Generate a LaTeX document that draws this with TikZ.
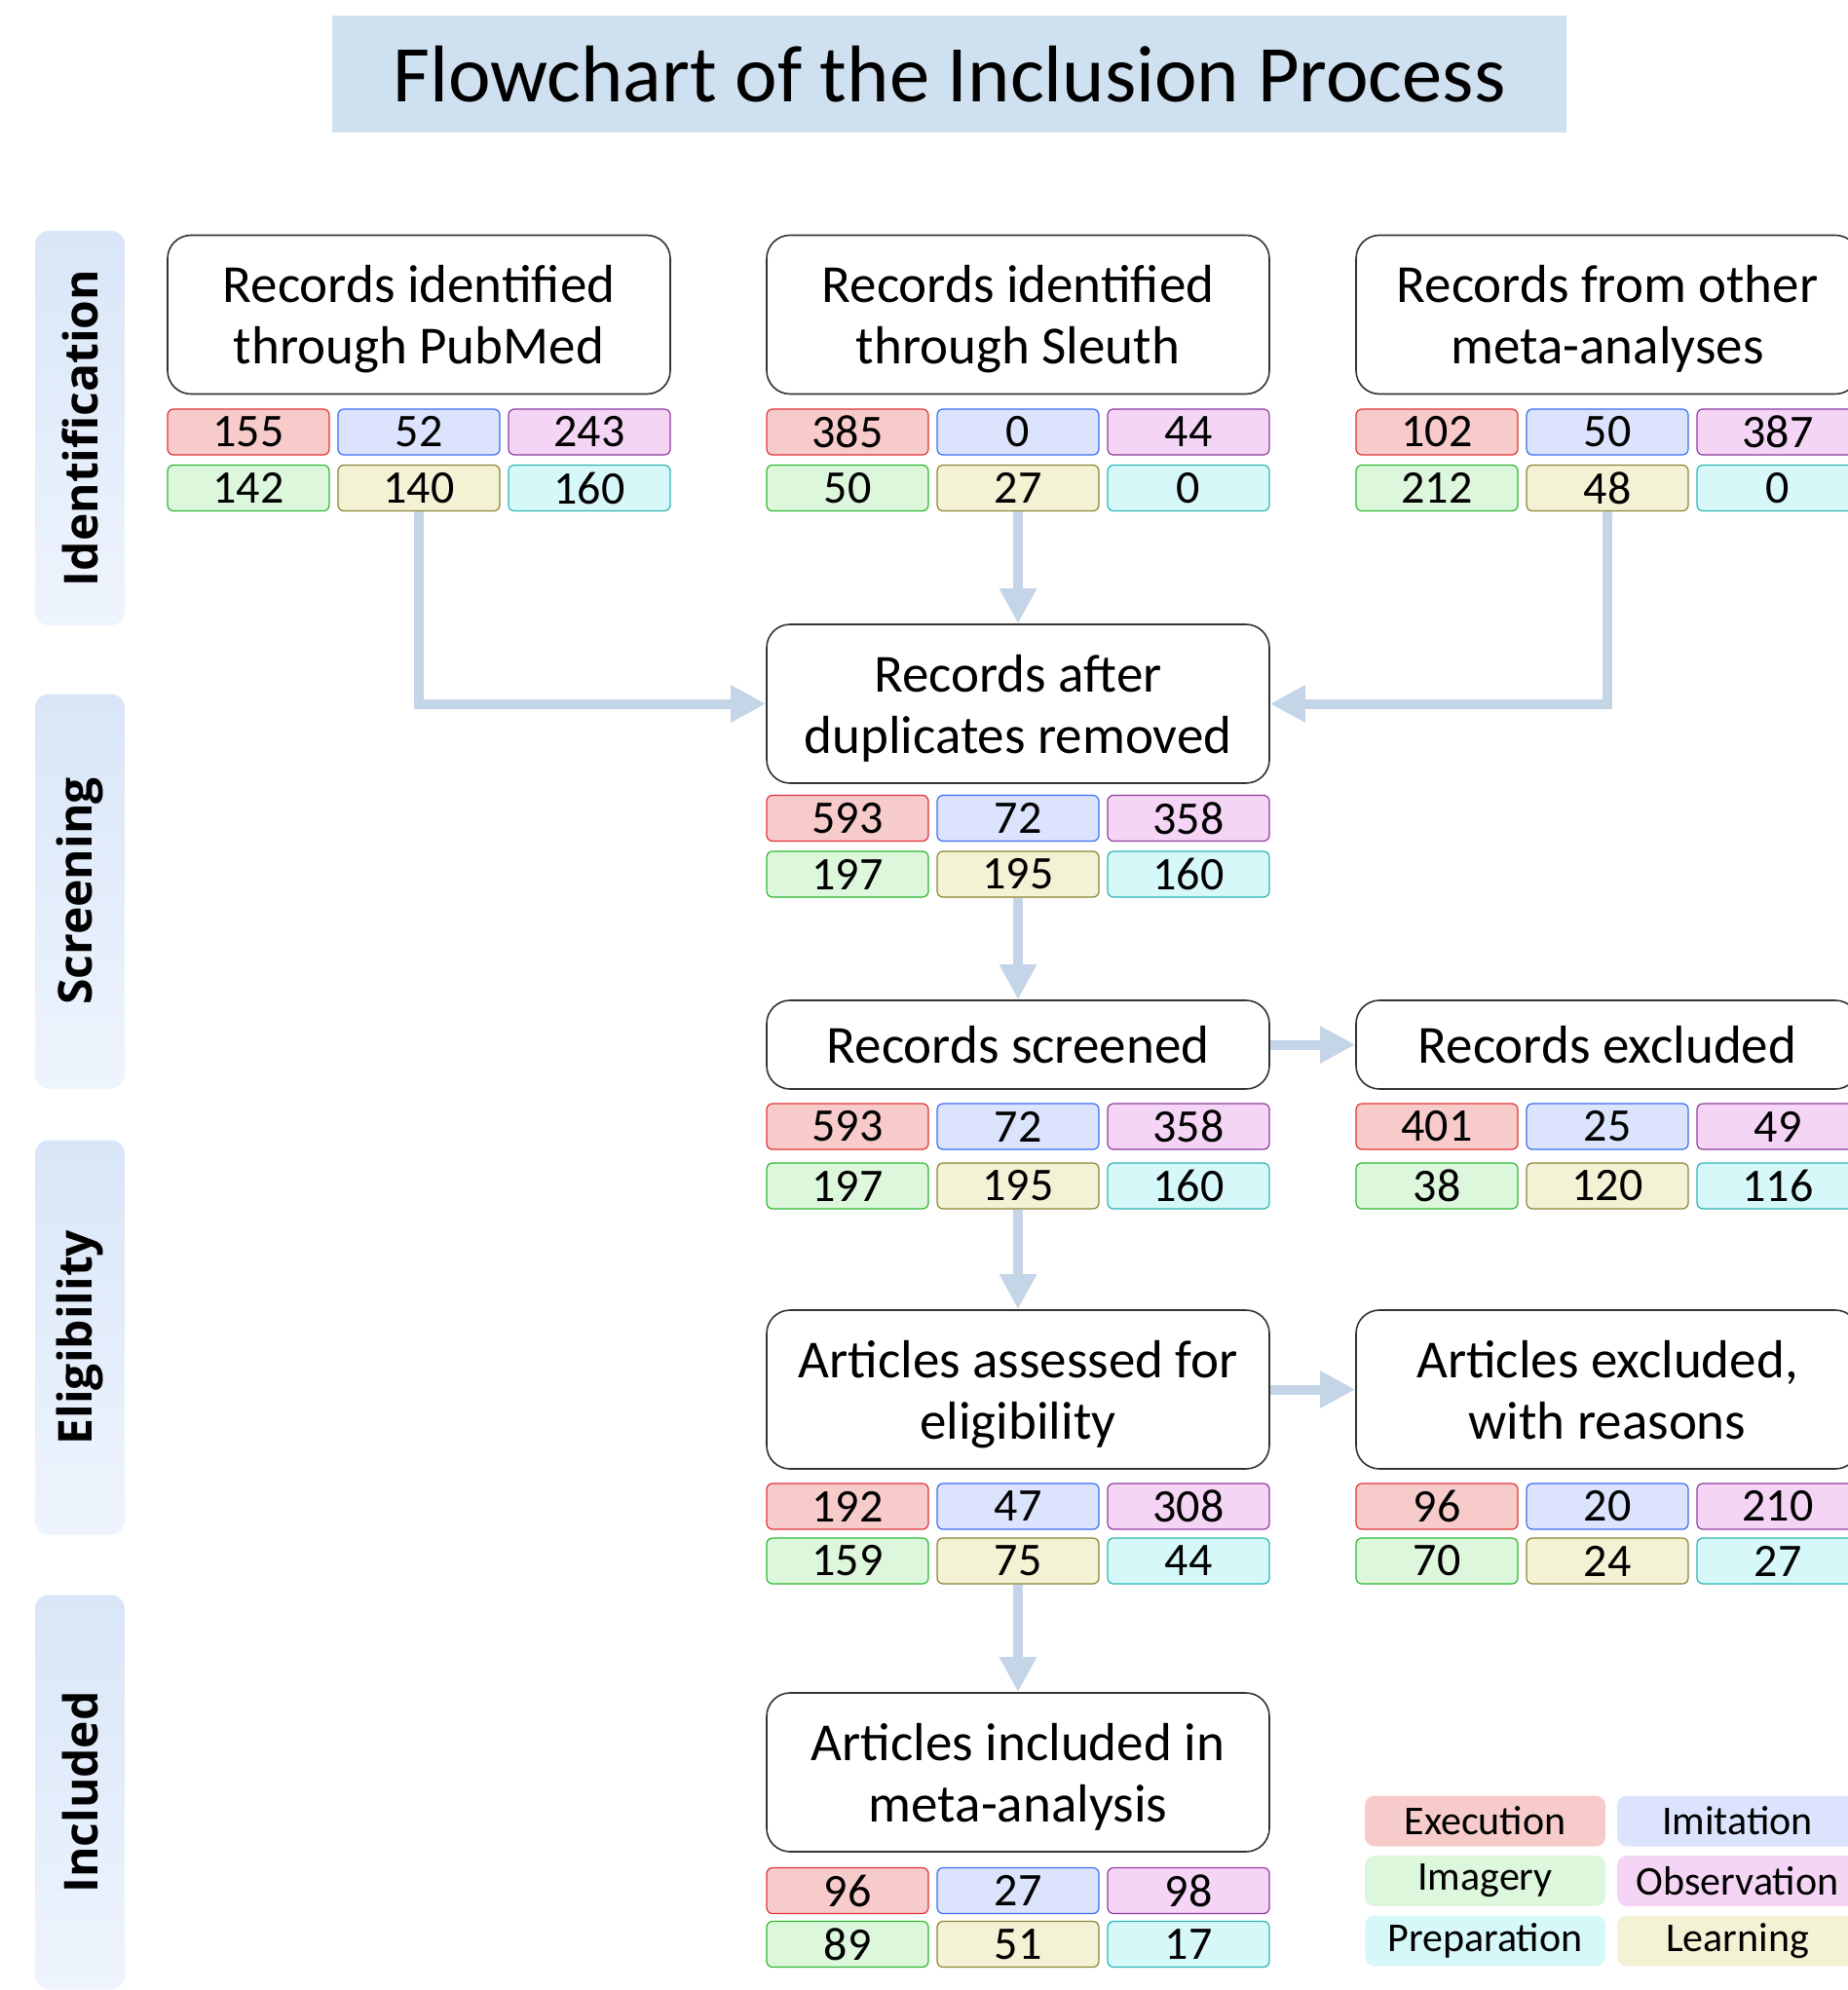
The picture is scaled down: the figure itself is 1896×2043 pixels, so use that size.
\documentclass[tikz,border=0pt]{standalone}
\usepackage{fontspec}
\setmainfont{Carlito}
\newfontfamily\sidefont{Open Sans}
\usetikzlibrary{arrows.meta}
\definecolor{titleblue}{HTML}{CFE1F0}
\definecolor{flowblue}{HTML}{C5D5E8}
\definecolor{sidedark}{HTML}{D9E6F8}
\definecolor{sidelight}{HTML}{EEF4FD}
\definecolor{exefill}{HTML}{F8CBCB}\definecolor{exeline}{HTML}{E03333}
\definecolor{imifill}{HTML}{DCE3FC}\definecolor{imiline}{HTML}{3B6CF5}
\definecolor{obsfill}{HTML}{F5D5F5}\definecolor{obsline}{HTML}{8E3A9E}
\definecolor{imgfill}{HTML}{DDF7DD}\definecolor{imgline}{HTML}{2EB82E}
\definecolor{lrnfill}{HTML}{F3F2D4}\definecolor{lrnline}{HTML}{8C8433}
\definecolor{prpfill}{HTML}{D6F8F8}\definecolor{prpline}{HTML}{2BB5B5}
\tikzset{
  box/.style={draw=black!80, line width=0.8pt, rounded corners=12pt, fill=white,
    minimum width=258pt, inner sep=0pt, align=center,
    font=\fontsize{27.5}{31.5}\selectfont},
  twoline/.style={box, minimum height=81.5pt, text depth=0pt},
  oneline/.style={box, minimum height=45.5pt},
  cell/.style={rounded corners=3pt, line width=0.6pt, minimum width=83pt,
    minimum height=23.5pt, inner sep=0pt, font=\fontsize{24}{24}\selectfont},
  legend/.style={rounded corners=5pt, minimum width=123.5pt, minimum height=26pt,
    inner sep=0pt, font=\fontsize{21}{21}\selectfont},
  side/.style={rotate=90, rounded corners=7pt, top color=sidedark, bottom color=sidelight,
    minimum width=202.5pt, minimum height=46pt, inner sep=0pt,
    font=\sidefont\bfseries\fontsize{24}{24}\selectfont},
  flow/.style={draw=flowblue, line width=5pt, -{Triangle[length=18pt,width=18pt]}}
}
\begin{document}
\begin{tikzpicture}[x=0.5pt,y=-0.5pt]
\useasboundingbox (0,0) rectangle (1896,2043);
% title
\node[fill=titleblue, minimum width=633.5pt, minimum height=60pt, inner sep=0pt,
  font=\fontsize{41.3}{41.3}\selectfont] (title) at (974.5,76) {Flowchart of the Inclusion Process};
% stages
\node[side] (identification) at (82,439.5) {Identification};
\node[side] (screening) at (82,915) {Screening};
\node[side] (eligibility) at (82,1373) {Eligibility};
\node[side] (includedstage) at (82,1840) {Included};
% boxes
\node[twoline] (pubmed) at (430,323) {Records identified\\through PubMed};
\node[twoline] (sleuth) at (1045,323) {Records identified\\through Sleuth};
\node[twoline] (other) at (1650,323) {Records from other\\meta-analyses};
\node[twoline] (dup) at (1045,722.5) {Records after\\duplicates removed};
\node[oneline] (screened) at (1045,1072.5) {Records screened};
\node[oneline] (excluded) at (1650,1072.5) {Records excluded};
\node[twoline] (assessed) at (1045,1426.5) {Articles assessed for\\eligibility};
\node[twoline] (reasons) at (1650,1426.5) {Articles excluded,\\with reasons};
\node[twoline] (included) at (1045,1819.5) {Articles included in\\meta-analysis};
% counts
\foreach \n/\x/\ya/\yb/\a/\b/\c/\d/\e/\f in {
  pubmed/430/443.5/501/155/52/243/142/140/160,
  sleuth/1045/443.5/501/385/0/44/50/27/0,
  other/1650/443.5/501/102/50/387/212/48/0,
  dup/1045/840/897.5/593/72/358/197/195/160,
  screened/1045/1156.5/1217.5/593/72/358/197/195/160,
  excluded/1650/1156.5/1217.5/401/25/49/38/120/116,
  assessed/1045/1546.5/1602.5/192/47/308/159/75/44,
  reasons/1650/1546.5/1602.5/96/20/210/70/24/27,
  included/1045/1941/1996/96/27/98/89/51/17}{
  \node[cell, draw=exeline, fill=exefill] (\n-1) at ({\x-175},\ya) {\a};
  \node[cell, draw=imiline, fill=imifill] (\n-2) at (\x,\ya) {\b};
  \node[cell, draw=obsline, fill=obsfill] (\n-3) at ({\x+175},\ya) {\c};
  \node[cell, draw=imgline, fill=imgfill] (\n-4) at ({\x-175},\yb) {\d};
  \node[cell, draw=lrnline, fill=lrnfill] (\n-5) at (\x,\yb) {\e};
  \node[cell, draw=prpline, fill=prpfill] (\n-6) at ({\x+175},\yb) {\f};
}
% arrows
\draw[flow] (pubmed-5.south) |- (dup.west);
\draw[flow] (other-5.south) |- (dup.east);
\draw[flow] (sleuth-5.south) -- (dup.north);
\draw[flow] (dup-5.south) -- (screened.north);
\draw[flow] (screened.east) -- (excluded.west);
\draw[flow] (screened-5.south) -- (assessed.north);
\draw[flow] (assessed.east) -- (reasons.west);
\draw[flow] (assessed-5.south) -- (included.north);
% legend
\node[legend, fill=exefill] (execution) at (1524.5,1869.5) {Execution};
\node[legend, fill=imifill] (imitation) at (1783.5,1869.5) {Imitation};
\node[legend, fill=imgfill] (imagery) at (1524.5,1931) {Imagery};
\node[legend, fill=obsfill] (observation) at (1783.5,1931) {Observation};
\node[legend, fill=prpfill] (preparation) at (1524.5,1992.5) {Preparation};
\node[legend, fill=lrnfill] (learning) at (1783.5,1992.5) {Learning};
\end{tikzpicture}
\end{document}
